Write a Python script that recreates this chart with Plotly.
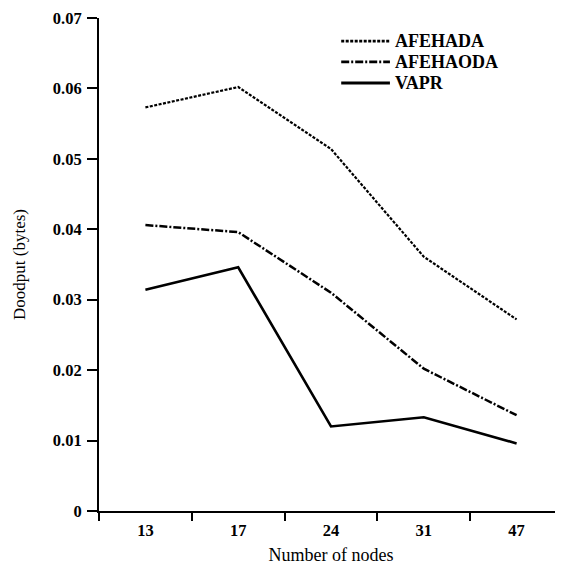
import plotly.graph_objects as go

nodes = ["13", "17", "24", "31", "47"]
afehada = [0.0573, 0.0602, 0.0514, 0.0361, 0.0272]
afehaoda = [0.0406, 0.0396, 0.0310, 0.0202, 0.0136]
vapr = [0.0314, 0.0346, 0.0120, 0.0133, 0.0096]

series_names = ["AFEHADA", "AFEHAODA", "VAPR"]
series_values = [afehada, afehaoda, vapr]
dashes = ["3px,1.5px", "8px,2px,2px,2px", "solid"]
widths = [2.2, 2.5, 2.6]

FONT = "Liberation Serif"

fig = go.Figure()
for name, vals, dash, w in zip(series_names, series_values, dashes, widths):
    fig.add_trace(go.Scatter(x=nodes, y=vals, mode="lines", name=name,
                             showlegend=False,
                             line=dict(color="black", width=w, dash=dash)))

# manual legend (compact rows like the original)
leg_y = [0.953, 0.911, 0.868]
for name, dash, w, yy in zip(series_names, dashes, widths, leg_y):
    fig.add_shape(type="line", xref="paper", yref="paper",
                  x0=0.522, x1=0.627, y0=yy, y1=yy,
                  line=dict(color="black", width=w + 0.4, dash=dash))
    fig.add_annotation(xref="paper", yref="paper", x=0.634, y=yy,
                       xanchor="left", yanchor="middle", showarrow=False,
                       text=name, font=dict(size=18, weight="bold"))

fig.update_layout(
    width=563, height=567,
    margin=dict(l=91, r=8, t=10, b=64),
    paper_bgcolor="white", plot_bgcolor="white",
    font=dict(family=FONT, color="black", size=17),
    showlegend=False,
    xaxis=dict(type="category", range=[-0.5, 4.5], tickson="boundaries",
               automargin=False,
               showline=True, linecolor="black", linewidth=2,
               ticks="outside", ticklen=8, tickwidth=2, tickcolor="black",
               ticklabelstandoff=3,
               showgrid=False, zeroline=False,
               tickfont=dict(size=16.5, weight="bold"),
               title=dict(text="Number of nodes", font=dict(size=18), standoff=10)),
    yaxis=dict(range=[0, 0.07], dtick=0.01, tickformat="~g",
               automargin=False,
               showline=True, linecolor="black", linewidth=2,
               ticks="outside", ticklen=10, tickwidth=2, tickcolor="black",
               ticklabelstandoff=2, ticklabeloverflow="allow",
               showgrid=False, zeroline=False,
               tickfont=dict(size=16.5, weight="bold"),
               title=dict(text="Doodput (bytes)", font=dict(size=17), standoff=23)),
)

fig.write_html("out.html")
